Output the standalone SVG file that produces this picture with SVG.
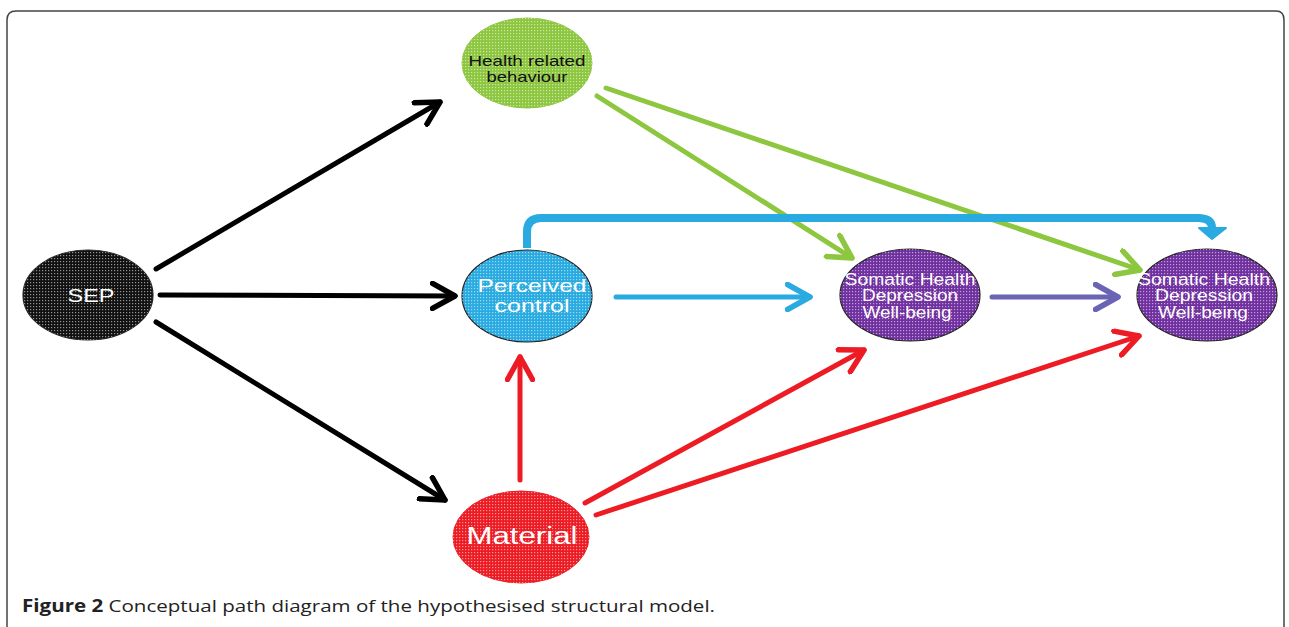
<svg xmlns="http://www.w3.org/2000/svg" width="1289" height="627" viewBox="0 0 1289 627">
<style>
.node-text{font-family:"Liberation Sans",Arial,sans-serif;text-anchor:middle;fill:#fff}
.outline{stroke:#222;stroke-width:1.2}
.conn{fill:none;stroke-linecap:round;stroke-linejoin:round}
.cap{font-family:"Open Sans","Liberation Sans",sans-serif;font-size:17px;fill:#222}
</style>
<defs>
<pattern id="dots" width="3" height="3" patternUnits="userSpaceOnUse">
<rect x="0" y="0" width="1.2" height="1.2" fill="#fff" fill-opacity="0.55"/>
</pattern>
<marker id="ah-black" viewBox="0 0 12 12" refX="10" refY="6" markerWidth="6" markerHeight="6" markerUnits="strokeWidth" orient="auto">
<path d="M1,1 L10,6 L1,11" fill="none" stroke="#000" stroke-width="2.2" stroke-linecap="round" stroke-linejoin="round"/>
</marker>
<marker id="ah-green" viewBox="0 0 12 12" refX="10" refY="6" markerWidth="6" markerHeight="6" markerUnits="strokeWidth" orient="auto">
<path d="M1,1 L10,6 L1,11" fill="none" stroke="#8dc63f" stroke-width="2.2" stroke-linecap="round" stroke-linejoin="round"/>
</marker>
<marker id="ah-blue" viewBox="0 0 12 12" refX="10" refY="6" markerWidth="6" markerHeight="6" markerUnits="strokeWidth" orient="auto">
<path d="M1,1 L10,6 L1,11" fill="none" stroke="#29abe2" stroke-width="2.2" stroke-linecap="round" stroke-linejoin="round"/>
</marker>
<marker id="ah-purple" viewBox="0 0 12 12" refX="10" refY="6" markerWidth="6" markerHeight="6" markerUnits="strokeWidth" orient="auto">
<path d="M1,1 L10,6 L1,11" fill="none" stroke="#6a64b4" stroke-width="2.2" stroke-linecap="round" stroke-linejoin="round"/>
</marker>
<marker id="ah-red" viewBox="0 0 12 12" refX="10" refY="6" markerWidth="6" markerHeight="6" markerUnits="strokeWidth" orient="auto">
<path d="M1,1 L10,6 L1,11" fill="none" stroke="#ed1c24" stroke-width="2.2" stroke-linecap="round" stroke-linejoin="round"/>
</marker>
</defs>
<rect width="1289" height="627" fill="#fff"/>
<path d="M7,640 L7,20 Q7,11 16,11 L1276,11 Q1284,11 1284,20 L1284,640" fill="none" stroke="#444" stroke-width="1.5"/>

<g id="connectors">
<g id="black-arrows" stroke="#000" stroke-width="5" class="conn">
<path d="M156,269 L440,102" marker-end="url(#ah-black)"/>
<path d="M160,295 L455,296" marker-end="url(#ah-black)"/>
<path d="M156,322 L445,500" marker-end="url(#ah-black)"/>
</g>
<g id="green-arrows" stroke="#8dc63f" stroke-width="5" class="conn">
<path d="M597,96 L852,258" marker-end="url(#ah-green)"/>
<path d="M606,88 L1140,270" marker-end="url(#ah-green)"/>
</g>
<g id="blue-arrows" stroke="#29abe2" class="conn">
<path d="M616,297 L810,297" stroke-width="5" marker-end="url(#ah-blue)"/>
<path d="M527,248 L527,232 Q527,218 541,218 L1198,218 Q1212,218 1212,228" stroke-width="8" stroke-linecap="butt"/>
<path d="M1199,228 L1226,228 L1212,239 Z" fill="#29abe2" stroke="#29abe2" stroke-width="2"/>
</g>
<g id="purple-arrow" stroke="#6a64b4" stroke-width="5" class="conn">
<path d="M992,297 L1118,297" marker-end="url(#ah-purple)"/>
</g>
<g id="red-arrows" stroke="#ed1c24" stroke-width="5" class="conn">
<path d="M520,480 L520,357" marker-end="url(#ah-red)"/>
<path d="M585,503 L864,350" marker-end="url(#ah-red)"/>
<path d="M596,515 L1139,336" marker-end="url(#ah-red)"/>
</g>
</g>

<g id="node-sep">
<ellipse cx="88" cy="295" rx="65" ry="45" fill="#111" class="outline"/>
<ellipse cx="88" cy="295" rx="65" ry="45" fill="url(#dots)"/>
<text x="91" y="302" class="node-text" font-size="19" textLength="47" lengthAdjust="spacingAndGlyphs">SEP</text>
</g>
<g id="node-health">
<ellipse cx="527" cy="63" rx="65" ry="45" fill="#8dc63f" stroke="#8dc63f"/>
<ellipse cx="527" cy="63" rx="65" ry="45" fill="url(#dots)"/>
<text x="527" y="66" class="node-text" font-size="15" style="fill:#111" textLength="117" lengthAdjust="spacingAndGlyphs">Health related</text>
<text x="527" y="82" class="node-text" font-size="15" style="fill:#111" textLength="81" lengthAdjust="spacingAndGlyphs">behaviour</text>
</g>
<g id="node-control">
<ellipse cx="527" cy="296" rx="65" ry="46" fill="#29abe2" class="outline"/>
<ellipse cx="527" cy="296" rx="65" ry="46" fill="url(#dots)"/>
<text x="532" y="292" class="node-text" font-size="19" textLength="109" lengthAdjust="spacingAndGlyphs">Perceived</text>
<text x="532" y="312" class="node-text" font-size="19" textLength="75" lengthAdjust="spacingAndGlyphs">control</text>
</g>
<g id="node-material">
<ellipse cx="521" cy="537" rx="68" ry="46" fill="#ed1c24" stroke="#ed1c24"/>
<ellipse cx="521" cy="537" rx="68" ry="46" fill="url(#dots)"/>
<text x="522" y="544" class="node-text" font-size="23" textLength="111" lengthAdjust="spacingAndGlyphs">Material</text>
</g>
<g id="node-outcome1">
<ellipse cx="910" cy="295" rx="70" ry="46" fill="#7030a0" class="outline"/>
<ellipse cx="910" cy="295" rx="70" ry="46" fill="url(#dots)"/>
<text x="910" y="285" class="node-text" font-size="16" textLength="131" lengthAdjust="spacingAndGlyphs">Somatic Health</text>
<text x="910" y="301" class="node-text" font-size="16" textLength="96" lengthAdjust="spacingAndGlyphs">Depression</text>
<text x="907" y="318" class="node-text" font-size="16" textLength="89" lengthAdjust="spacingAndGlyphs">Well-being</text>
</g>
<g id="node-outcome2">
<ellipse cx="1207" cy="295" rx="70" ry="46" fill="#7030a0" class="outline"/>
<ellipse cx="1207" cy="295" rx="70" ry="46" fill="url(#dots)"/>
<text x="1204" y="285" class="node-text" font-size="16" textLength="132" lengthAdjust="spacingAndGlyphs">Somatic Health</text>
<text x="1204" y="301" class="node-text" font-size="16" textLength="98" lengthAdjust="spacingAndGlyphs">Depression</text>
<text x="1203" y="318" class="node-text" font-size="16" textLength="90" lengthAdjust="spacingAndGlyphs">Well-being</text>
</g>

<text x="22" y="612" class="cap" textLength="693" lengthAdjust="spacingAndGlyphs"><tspan font-weight="bold">Figure 2</tspan> Conceptual path diagram of the hypothesised structural model.</text>
</svg>
